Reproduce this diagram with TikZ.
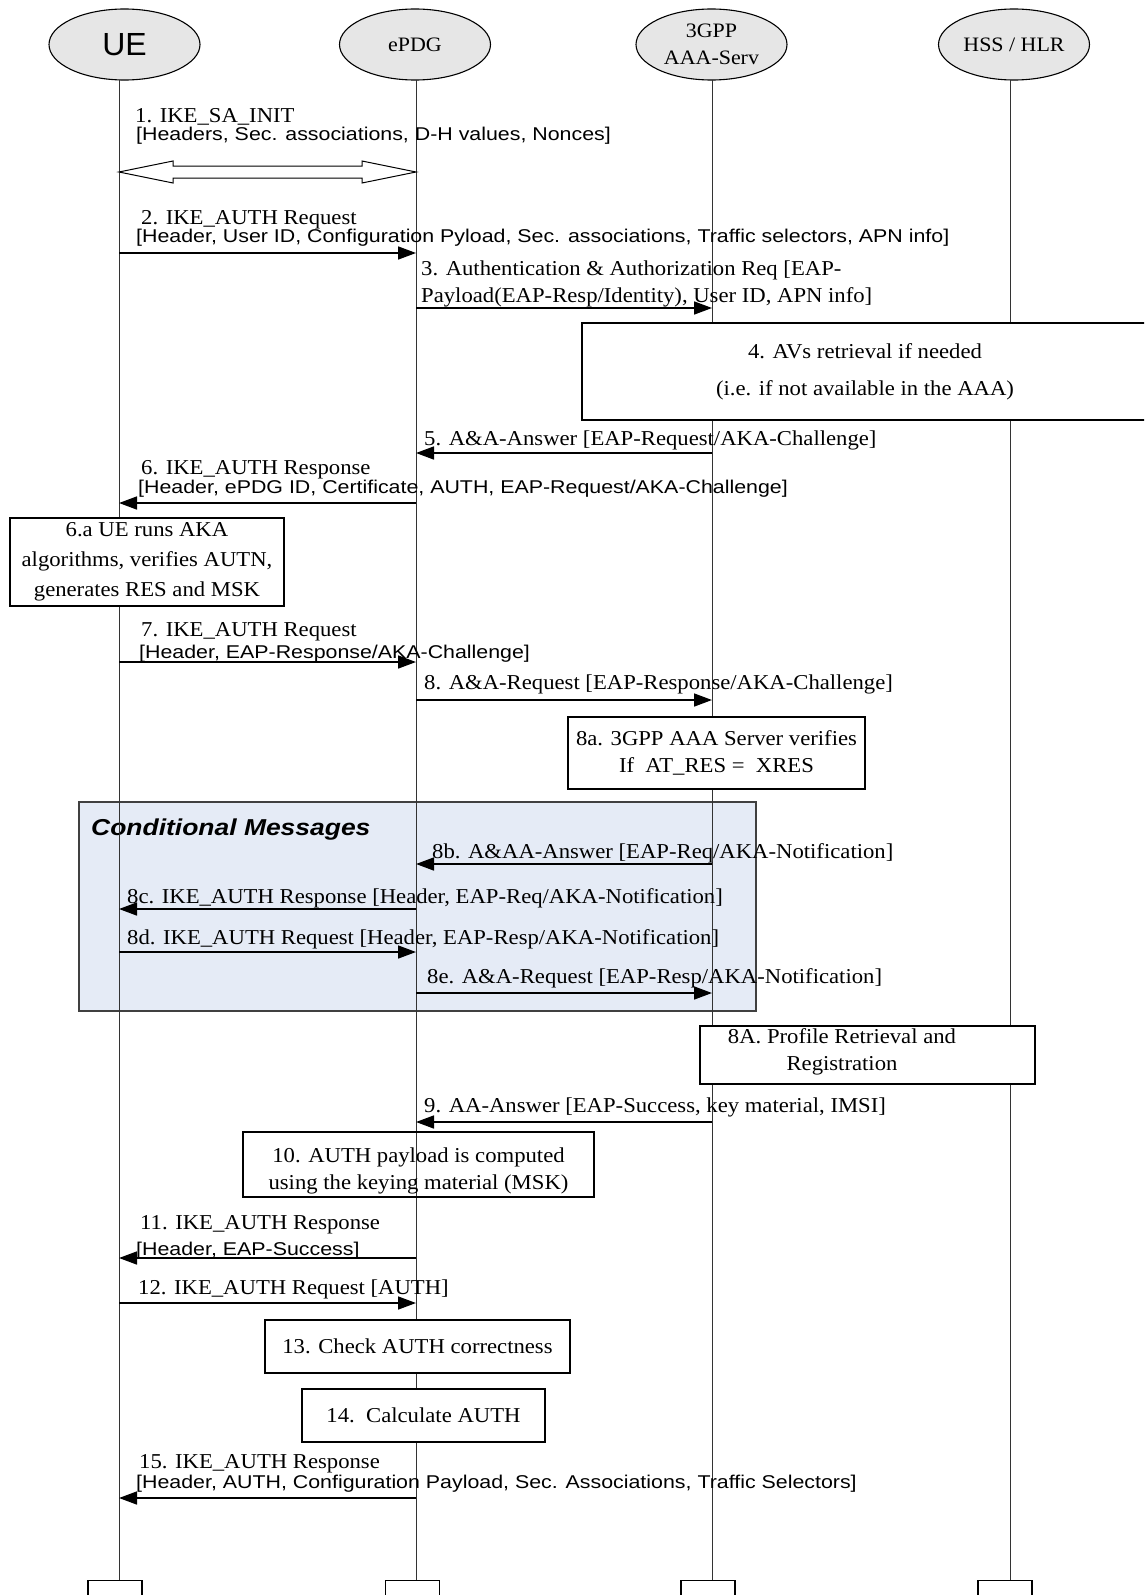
\documentclass[tikz,border=0pt]{standalone}
\usepackage{fontspec}
\usetikzlibrary{arrows.meta,shapes.geometric}
\newfontfamily\myserif[FakeStretch=1.07]{Liberation Serif}
\newfontfamily\mysans[FakeStretch=1.155]{Liberation Sans}
\newfontfamily\mysansplain{Liberation Sans}
\newfontfamily\mycond[FakeStretch=1.15]{Liberation Sans}
\definecolor{condfill}{RGB}{229,235,246}
\definecolor{ellfill}{RGB}{230,230,230}
\tikzset{
  lab/.style={anchor=base west, inner sep=0pt, font=\myserif\fontsize{21.2}{27}\selectfont},
  slab/.style={anchor=base west, inner sep=0pt, font=\mysans\fontsize{18.5}{20}\selectfont},
  actor/.style={ellipse, draw, line width=1.1pt, fill=ellfill, minimum width=151, minimum height=71, inner sep=0pt, font=\myserif\fontsize{20.5}{27.5}\selectfont, align=center},
  life/.style={draw=black!80, line width=1pt},
  msg/.style={draw, line width=1.6pt, -{Triangle[length=18pt,width=13pt]}},
  stepbox/.style={draw, line width=1.3pt, fill=white, inner sep=0pt, align=center, font=\myserif\fontsize{21.2}{27}\selectfont},
  boxtext/.style={inner sep=0pt, align=center, font=\myserif\fontsize{21.2}{27}\selectfont},
  endbox/.style={draw, line width=1.2pt, fill=white, minimum width=54, minimum height=20, anchor=north, inner sep=0pt},
  condbox/.style={draw=black!75, line width=1.3pt, fill=condfill, minimum width=677, minimum height=209, inner sep=0pt}
}
\begin{document}
\begin{tikzpicture}[x=1pt,y=-1pt]
\useasboundingbox (0,0) rectangle (1144,1595);
\clip (0,0) rectangle (1144,1595);

% conditional frame
\node[condbox] (cond) at (417.5,906.5) {};
\node[anchor=base west, inner sep=0pt, font=\mycond\bfseries\itshape\fontsize{23}{25}\selectfont] (condlab) at (91,835) {Conditional Messages};

% actors
\node[actor, font=\mysansplain\fontsize{32}{34}\selectfont] (eUE) at (124.5,44.5) {UE};
\node[actor] (eEPDG) at (415,44.5) {ePDG};
\node[actor] (eAAA) at (711.5,44.5) {3GPP\\AAA-Serv};
\node[actor] (eHSS) at (1014,44.5) {HSS / HLR};

% lifeline x positions
\coordinate (lUE) at (119,0);
\coordinate (lEPDG) at (416,0);
\coordinate (lAAA) at (712,0);
\coordinate (lHSS) at (1010,0);

% bottom boxes
\node[endbox] (bUE) at (115,1580) {};
\node[endbox] (bEPDG) at (412.5,1580) {};
\node[endbox] (bAAA) at (708,1580) {};
\node[endbox] (bHSS) at (1005,1580) {};

% lifelines
\draw[life] (lUE |- 0,80) -- (lUE |- bUE.north);
\draw[life] (lEPDG |- 0,80) -- (lEPDG |- bEPDG.north);
\draw[life] (lAAA |- 0,80) -- (lAAA |- bAAA.north);
\draw[life] (lHSS |- 0,80) -- (lHSS |- bHSS.north);

% process boxes
\node[stepbox, minimum width=566, minimum height=97, font=\myserif\fontsize{21.2}{37}\selectfont] (b4) at (865,371.5) {4. AVs retrieval if needed\\(i.e. if not available in the AAA)};
\node[stepbox, minimum width=274, minimum height=88, font=\myserif\fontsize{21.2}{30}\selectfont] (b6a) at (147,562) {6.a UE runs AKA\\algorithms, verifies AUTN,\\generates RES and MSK};
\node[stepbox, minimum width=297, minimum height=72] (b8a) at (716.5,753) {8a. 3GPP AAA Server verifies\\If\ \ AT\_RES =\ \ XRES};
\node[stepbox, minimum width=335, minimum height=58] (b8A) at (867.5,1055) {};
\node[boxtext] (t8A) at (842,1052) {8A. Profile Retrieval and\\Registration};
\node[stepbox, fill=none, minimum width=351, minimum height=65] (b10) at (418.5,1164.5) {};
\node[boxtext] (t10) at (418.5,1171) {10. AUTH payload is computed\\using the keying material (MSK)};
\node[stepbox, minimum width=305, minimum height=53] (b13) at (417.5,1346.5) {13. Check AUTH correctness};
\node[stepbox, minimum width=243, minimum height=53] (b14) at (423.5,1415.5) {14.\ \ Calculate AUTH};

% message 1 (hollow double arrow)
\draw[line width=1pt, fill=white] (lUE |- 0,172) -- (173,161) -- (173,166) -- (362,166) -- (362,161) -- (lEPDG |- 0,172) -- (362,183) -- (362,178) -- (173,178) -- (173,183) -- cycle;
\node[lab] (l1a) at (135,122) {1. IKE\_SA\_INIT};
\node[slab] (l1b) at (136,140) {[Headers, Sec. associations, D-H values, Nonces]};

% messages
\draw[msg] (lUE |- 0,253) -- (lEPDG |- 0,253);
\node[lab] (l2a) at (141,224) {2. IKE\_AUTH Request};
\node[slab] (l2b) at (136,242.5) {[Header, User ID, Configuration Pyload, Sec. associations, Traffic selectors, APN info]};

\draw[msg] (lEPDG |- 0,308) -- (lAAA |- 0,308);
\node[lab] (l3a) at (421,275) {3. Authentication \& Authorization Req [EAP-};
\node[lab] (l3b) at (421,302) {Payload(EAP-Resp/Identity), User ID, APN info]};

\draw[msg] (lAAA |- 0,453) -- (lEPDG |- 0,453);
\node[lab] (l5) at (424,445) {5. A\&A-Answer [EAP-Request/AKA-Challenge]};

\draw[msg] (lEPDG |- 0,503) -- (lUE |- 0,503);
\node[lab] (l6a) at (141,474) {6. IKE\_AUTH Response};
\node[slab] (l6b) at (138,493) {[Header, ePDG ID, Certificate, AUTH, EAP-Request/AKA-Challenge]};

\draw[msg] (lUE |- 0,662) -- (lEPDG |- 0,662);
\node[lab] (l7a) at (141,636) {7. IKE\_AUTH Request};
\node[slab] (l7b) at (139,658) {[Header, EAP-Response/AKA-Challenge]};

\draw[msg] (lEPDG |- 0,700) -- (lAAA |- 0,700);
\node[lab] (l8) at (424,689) {8. A\&A-Request [EAP-Response/AKA-Challenge]};

\draw[msg] (lAAA |- 0,864) -- (lEPDG |- 0,864);
\node[lab] (l8b) at (432,858) {8b. A\&AA-Answer [EAP-Req/AKA-Notification]};

\draw[msg] (lEPDG |- 0,909) -- (lUE |- 0,909);
\node[lab] (l8c) at (127,903) {8c. IKE\_AUTH Response [Header, EAP-Req/AKA-Notification]};

\draw[msg] (lUE |- 0,952) -- (lEPDG |- 0,952);
\node[lab] (l8d) at (127,944) {8d. IKE\_AUTH Request [Header, EAP-Resp/AKA-Notification]};

\draw[msg] (lEPDG |- 0,993) -- (lAAA |- 0,993);
\node[lab] (l8e) at (427,983) {8e. A\&A-Request [EAP-Resp/AKA-Notification]};

\draw[msg] (lAAA |- 0,1122) -- (lEPDG |- 0,1122);
\node[lab] (l9) at (424,1112) {9. AA-Answer [EAP-Success, key material, IMSI]};

\draw[msg] (lEPDG |- 0,1258) -- (lUE |- 0,1258);
\node[lab] (l11a) at (140,1229) {11. IKE\_AUTH Response};
\node[slab] (l11b) at (136,1255) {[Header, EAP-Success]};

\draw[msg] (lUE |- 0,1303) -- (lEPDG |- 0,1303);
\node[lab] (l12) at (138,1294) {12. IKE\_AUTH Request [AUTH]};

\draw[msg] (lEPDG |- 0,1498) -- (lUE |- 0,1498);
\node[lab] (l15a) at (139,1468) {15. IKE\_AUTH Response};
\node[slab] (l15b) at (136,1488) {[Header, AUTH, Configuration Payload, Sec. Associations, Traffic Selectors]};
\end{tikzpicture}
\end{document}
